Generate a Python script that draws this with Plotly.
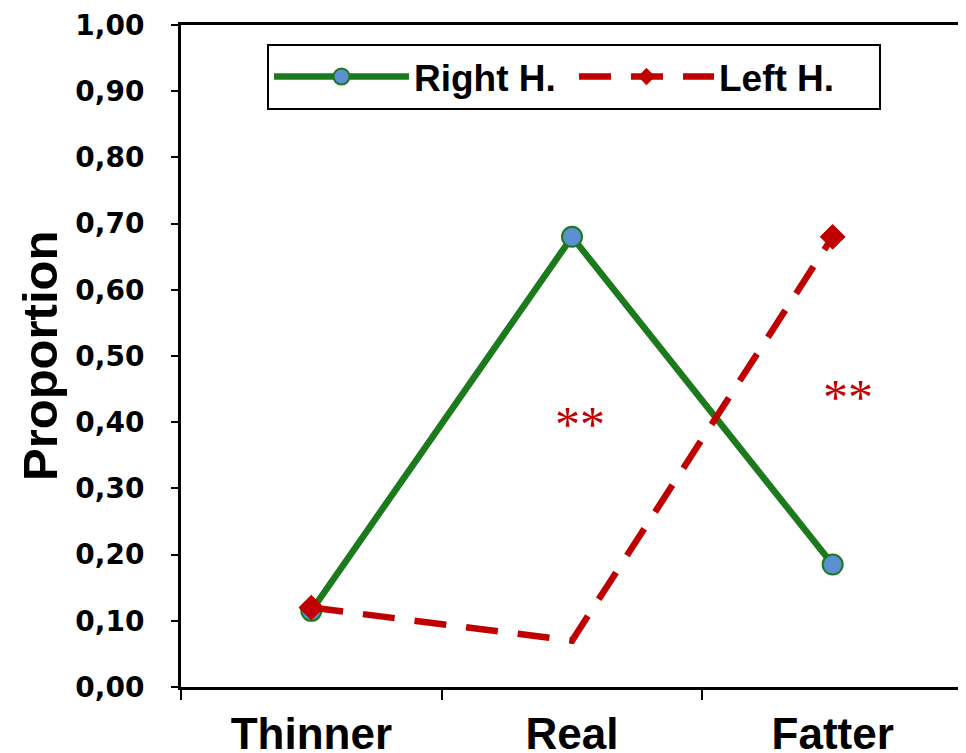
import plotly.graph_objects as go

categories = ["Thinner", "Real", "Fatter"]
right_h = [0.115, 0.68, 0.185]
left_h = [0.12, 0.07, 0.68]
left_marker_sizes = [19, 0, 19]
y_tick_vals = [0.0, 0.1, 0.2, 0.3, 0.4, 0.5, 0.6, 0.7, 0.8, 0.9, 1.0]
y_tick_text = ["0,00", "0,10", "0,20", "0,30", "0,40", "0,50", "0,60", "0,70", "0,80", "0,90", "1,00"]
sig_x = ["Real", "Fatter"]
sig_y = [0.398, 0.438]
sig_text = ["**", "**"]
sig_xshift = [8, 15]

GREEN = "#1B7A1B"
BLUE = "#5B8FD0"
RED = "#C00000"
FONT = "Liberation Sans, Arial, sans-serif"
TICKFONT = "DejaVu Sans, Verdana, sans-serif"

fig = go.Figure()
fig.add_trace(go.Scatter(
    x=categories, y=right_h, name="Right H.", mode="lines+markers", opacity=1,
    line=dict(color=GREEN, width=6.5),
    marker=dict(symbol="circle", size=20, color=BLUE, opacity=1, line=dict(color=GREEN, width=2)),
))
fig.add_trace(go.Scatter(
    x=categories, y=left_h, name="Left H.", mode="lines+markers", opacity=1,
    line=dict(color=RED, width=6.5, dash="32px,20px"),
    marker=dict(symbol="diamond", size=left_marker_sizes, color=RED, opacity=1,
                line=dict(color=RED, width=1)),
))

for xv, yv, t, xs in zip(sig_x, sig_y, sig_text, sig_xshift):
    fig.add_annotation(
        x=xv, y=yv, text=t, showarrow=False, xshift=xs,
        font=dict(family="Liberation Serif, Times New Roman, serif", size=50, color=RED),
    )

fig.add_annotation(
    x=0, y=0.5, xref="paper", yref="paper", xanchor="center", yanchor="middle",
    xshift=-141, text="<b>Proportion</b>", textangle=-90, showarrow=False,
    font=dict(size=49, family=FONT, color="black"),
)

# page body has an 8px default margin: plot area lands at x 181..963, y 25..687
fig.update_layout(
    width=966, height=753,
    margin=dict(l=173, r=11, t=17, b=74),
    paper_bgcolor="white", plot_bgcolor="white",
    font=dict(family=FONT, color="black"),
    showlegend=True,
    legend=dict(
        orientation="h", x=0.11, y=0.9713, xanchor="left", yanchor="top",
        bordercolor="black", borderwidth=2, bgcolor="white",
        font=dict(size=37, family=FONT, weight="bold"),
        itemwidth=135, entrywidth=155,
    ),
)
fig.update_xaxes(
    type="category", range=[-0.5, 2.5], tickson="boundaries",
    showline=True, linecolor="black", linewidth=3, mirror=True,
    ticks="outside", ticklen=10, tickwidth=2, tickcolor="black",
    showgrid=False, zeroline=False, automargin=False,
    tickfont=dict(size=44, family=FONT, weight="bold"),
    ticklabelstandoff=6,
)
fig.update_yaxes(
    range=[0, 1], tickvals=y_tick_vals, ticktext=y_tick_text,
    showline=True, linecolor="black", linewidth=3, mirror=True,
    ticks="outside", ticklen=7, tickwidth=2, tickcolor="black",
    showgrid=False, zeroline=False, automargin=False,
    tickfont=dict(size=28, family=TICKFONT, weight="bold"),
    ticklabelstandoff=21,
)

fig.write_html("out.html")
